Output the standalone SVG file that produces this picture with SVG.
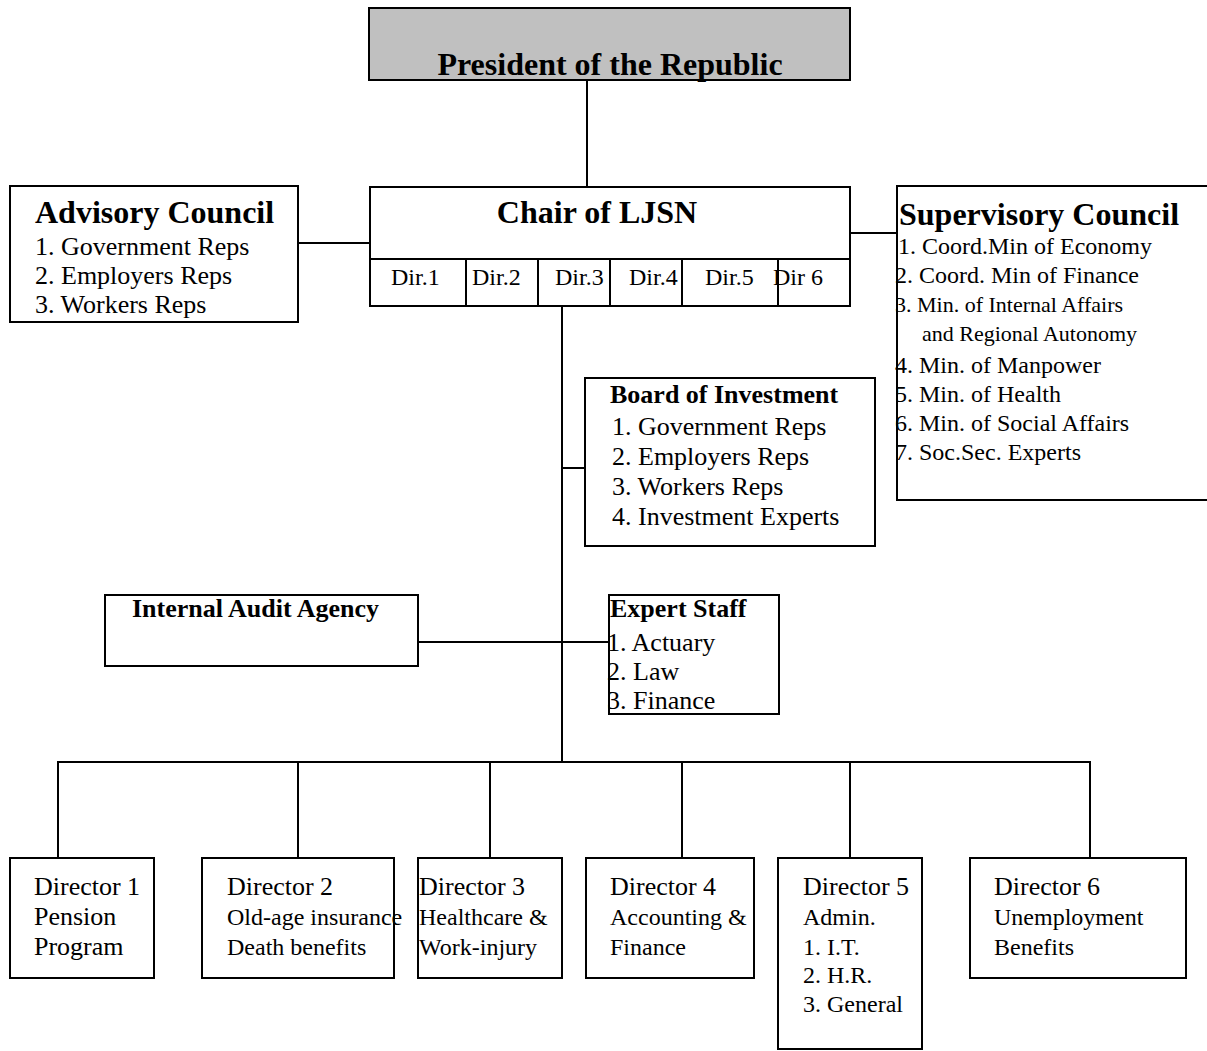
<svg xmlns="http://www.w3.org/2000/svg" width="1207" height="1051" viewBox="0 0 1207 1051">
<style>
text{font-family:"Liberation Serif","Times New Roman",serif;fill:#000}
.box{fill:#fff;stroke:#000;stroke-width:2}
.pres{fill:#c0c0c0;stroke:#000;stroke-width:2}
.ln{stroke:#000;stroke-width:2;fill:none}
.t32{font-size:32px;font-weight:bold}
.b26{font-size:26px;font-weight:bold}
.r26{font-size:26px}
.r24{font-size:24px}
.r22{font-size:22px}
</style>
<rect width="1207" height="1051" fill="#fff"/>
<g id="connectors">
<line class="ln" x1="587" y1="80" x2="587" y2="187"/>
<line class="ln" x1="298" y1="243" x2="370" y2="243"/>
<line class="ln" x1="850" y1="233" x2="897" y2="233"/>
<line class="ln" x1="562" y1="306" x2="562" y2="762"/>
<line class="ln" x1="562" y1="468" x2="585" y2="468"/>
<line class="ln" x1="418" y1="642" x2="609" y2="642"/>
<polyline class="ln" points="58,858 58,762 1090,762 1090,858"/>
<line class="ln" x1="298" y1="762" x2="298" y2="858"/>
<line class="ln" x1="490" y1="762" x2="490" y2="858"/>
<line class="ln" x1="682" y1="762" x2="682" y2="858"/>
<line class="ln" x1="850" y1="762" x2="850" y2="858"/>
</g>
<g id="president">
<rect class="pres" x="369" y="8" width="481" height="72"/>
<text class="t32" x="610" y="75" text-anchor="middle">President of the Republic</text>
</g>
<g id="chair">
<rect class="box" x="370" y="187" width="480" height="119"/>
<line class="ln" x1="370" y1="259" x2="850" y2="259"/>
<line class="ln" x1="466" y1="259" x2="466" y2="306"/>
<line class="ln" x1="538" y1="259" x2="538" y2="306"/>
<line class="ln" x1="610" y1="259" x2="610" y2="306"/>
<line class="ln" x1="682" y1="259" x2="682" y2="306"/>
<line class="ln" x1="778" y1="259" x2="778" y2="306"/>
<text class="t32" x="597" y="223" text-anchor="middle">Chair of LJSN</text>
<text class="r24" x="391" y="285">Dir.1</text>
<text class="r24" x="472" y="285">Dir.2</text>
<text class="r24" x="555" y="285">Dir.3</text>
<text class="r24" x="629" y="285">Dir.4</text>
<text class="r24" x="705" y="285">Dir.5</text>
<text class="r24" x="773" y="285">Dir 6</text>
</g>
<g id="advisory">
<rect class="box" x="10" y="186" width="288" height="136"/>
<text class="t32" x="35" y="223">Advisory Council</text>
<text class="r26" x="35" y="255">1. Government Reps</text>
<text class="r26" x="35" y="284">2. Employers Reps</text>
<text class="r26" x="35" y="313">3. Workers Reps</text>
</g>
<g id="supervisory">
<rect class="box" x="897" y="186" width="320" height="314"/>
<text class="t32" x="899" y="225">Supervisory Council</text>
<text class="r24" x="898" y="254">1. Coord.Min of Economy</text>
<text class="r24" x="895" y="283">2. Coord. Min of Finance</text>
<text class="r22" x="895" y="312">3. Min. of Internal Affairs</text>
<text class="r22" x="922" y="341">and Regional Autonomy</text>
<text class="r24" x="895" y="373">4. Min. of Manpower</text>
<text class="r24" x="895" y="402">5. Min. of Health</text>
<text class="r24" x="895" y="431">6. Min. of Social Affairs</text>
<text class="r24" x="895" y="460">7. Soc.Sec. Experts</text>
</g>
<g id="board">
<rect class="box" x="585" y="378" width="290" height="168"/>
<text class="b26" x="610" y="403">Board of Investment</text>
<text class="r26" x="612" y="435">1. Government Reps</text>
<text class="r26" x="612" y="465">2. Employers Reps</text>
<text class="r26" x="612" y="495">3. Workers Reps</text>
<text class="r26" x="612" y="525">4. Investment Experts</text>
</g>
<g id="audit">
<rect class="box" x="105" y="595" width="313" height="71"/>
<text class="b26" x="132" y="617">Internal Audit Agency</text>
</g>
<g id="expert">
<rect class="box" x="609" y="595" width="170" height="119"/>
<text class="b26" x="610" y="617">Expert Staff</text>
<text class="r26" x="607" y="651">1. Actuary</text>
<text class="r26" x="607" y="680">2. Law</text>
<text class="r26" x="607" y="709">3. Finance</text>
</g>
<g id="director1">
<rect class="box" x="10" y="858" width="144" height="120"/>
<text class="r26" x="34" y="895">Director 1</text>
<text class="r26" x="34" y="925">Pension</text>
<text class="r26" x="34" y="955">Program</text>
</g>
<g id="director2">
<rect class="box" x="202" y="858" width="192" height="120"/>
<text class="r26" x="227" y="895">Director 2</text>
<text class="r24" x="227" y="925">Old-age insurance</text>
<text class="r24" x="227" y="955">Death benefits</text>
</g>
<g id="director3">
<rect class="box" x="418" y="858" width="144" height="120"/>
<text class="r26" x="419" y="895">Director 3</text>
<text class="r24" x="419" y="925">Healthcare &amp;</text>
<text class="r24" x="419" y="955">Work-injury</text>
</g>
<g id="director4">
<rect class="box" x="586" y="858" width="168" height="120"/>
<text class="r26" x="610" y="895">Director 4</text>
<text class="r24" x="610" y="925">Accounting &amp;</text>
<text class="r24" x="610" y="955">Finance</text>
</g>
<g id="director5">
<rect class="box" x="778" y="858" width="144" height="191"/>
<text class="r26" x="803" y="895">Director 5</text>
<text class="r24" x="803" y="925">Admin.</text>
<text class="r24" x="803" y="955">1. I.T.</text>
<text class="r24" x="803" y="983">2. H.R.</text>
<text class="r24" x="803" y="1012">3. General</text>
</g>
<g id="director6">
<rect class="box" x="970" y="858" width="216" height="120"/>
<text class="r26" x="994" y="895">Director 6</text>
<text class="r24" x="994" y="925">Unemployment</text>
<text class="r24" x="994" y="955">Benefits</text>
</g>
</svg>
